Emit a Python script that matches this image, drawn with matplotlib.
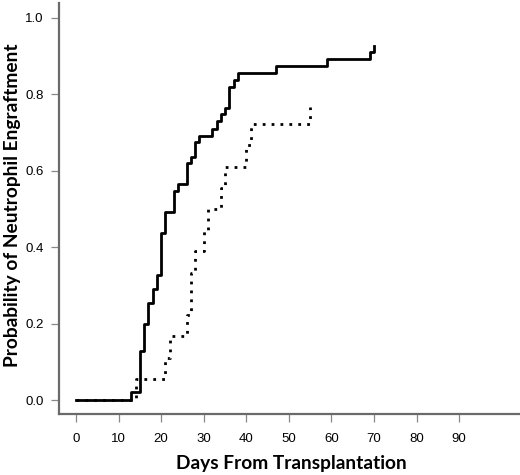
import matplotlib
matplotlib.use("Agg")
import matplotlib.pyplot as plt

plt.rcParams['font.family'] = ['Liberation Sans', 'DejaVu Sans']

# solid curve (group 1)
solid_days = [0, 13, 15, 16, 17, 18, 19, 20, 21, 23, 24, 26, 27, 28, 29, 32, 33,
              34, 35, 36, 37, 38, 47, 59, 69, 70]
solid_prob = [0, 0.02, 0.129, 0.20, 0.255, 0.291, 0.328, 0.438, 0.492, 0.547, 0.565,
              0.62, 0.637, 0.674, 0.692, 0.709, 0.729, 0.748, 0.765, 0.82, 0.838,
              0.857, 0.874, 0.892, 0.912, 0.927]

# dotted curve (group 2)
dot_days = [0, 14, 21, 22, 26, 27, 28, 30, 31, 34, 35, 40, 41, 55]
dot_prob = [0, 0.0556, 0.111, 0.167, 0.222, 0.333, 0.389, 0.444, 0.5, 0.556,
            0.611, 0.667, 0.722, 0.768]

x_ticks = [0, 10, 20, 30, 40, 50, 60, 70, 80, 90]
y_ticks = [0.0, 0.2, 0.4, 0.6, 0.8, 1.0]

fig = plt.figure(figsize=(5.2, 4.75), dpi=100)
ax = fig.add_axes([0.1129, 0.1284, 0.8871, 0.8653])

ax.step(dot_days, dot_prob, where='post', color='black', lw=2.0,
        linestyle=(0, (1, 2.2)), dash_capstyle='butt')
ax.step(solid_days, solid_prob, where='post', color='black', lw=2.0)

ax.set_xlim(-4.07, 104.3)
ax.set_ylim(-0.0366, 1.039)

for s in ['top', 'right']:
    ax.spines[s].set_visible(False)
for s in ['left', 'bottom']:
    ax.spines[s].set_color('#6a6a6a')
    ax.spines[s].set_linewidth(1.6)

ax.set_xticks(x_ticks)
ax.set_xticklabels([str(t) for t in x_ticks])
ax.set_yticks(y_ticks)
ax.set_yticklabels([f"{t:.1f}" for t in y_ticks])
ax.tick_params(axis='x', direction='out', length=5.5, width=0.9, color='#888888',
               pad=8, labelsize=9.5, labelcolor='black')
ax.tick_params(axis='y', direction='out', length=6, width=0.9, color='#888888',
               pad=5, labelsize=9.5, labelcolor='black')

fig.text(0.5598, 0.0126, "Days From Transplantation", ha='center', va='baseline',
         fontsize=13.8, fontweight='bold', family='Lato')
fig.text(0.024, 0.567, "Probability of Neutrophil Engraftment", ha='center', va='center',
         rotation=90, fontsize=13.8, fontweight='bold', family='Lato')

fig.savefig("out.png", dpi=100)
